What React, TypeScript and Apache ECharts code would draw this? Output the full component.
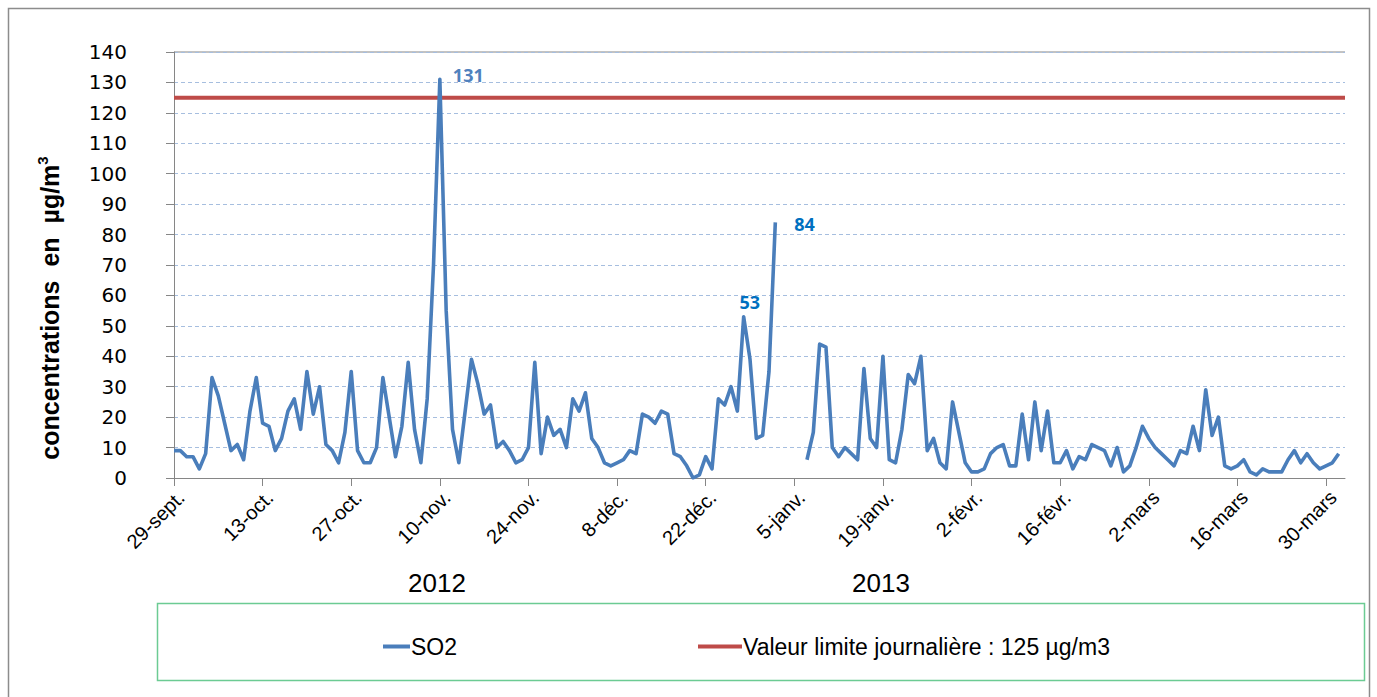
import React, { useEffect, useRef } from "react";
import * as echarts from "echarts";

// ---- data ----
const START = { year: 2012, month: 8, day: 29 }; // 29 sept. 2012
const DAY_COUNT = 186;
const MONTHS_FR = ["janv.", "févr.", "mars", "avr.", "mai", "juin", "juil.", "août", "sept.", "oct.", "nov.", "déc."];
const YEAR_LABELS = ["2012", "2013"];
const SO2_NAME = "SO2";
const LIMIT_NAME = "Valeur limite journalière : 125 µg/m3";
const LIMIT = 125;
const Y_TITLE = "concentrations  en  µg/m";

// daily SO2 values (µg/m3), null = no measurement
const so2Values: (number | null)[] = [
  9, 9, 7, 7, 3, 8, 33, 27, 18, 9,
  11, 6, 22, 33, 18, 17, 9, 13, 22, 26,
  16, 35, 21, 30, 11, 9, 5, 15, 35, 9,
  5, 5, 10, 33, 20, 7, 17, 38, 16, 5,
  26, 70, 131, 55, 16, 5, 22, 39, 31, 21,
  24, 10, 12, 9, 5, 6, 10, 38, 8, 20,
  14, 16, 10, 26, 22, 28, 13, 10, 5, 4,
  5, 6, 9, 8, 21, 20, 18, 22, 21, 8,
  7, 4, 0, 1, 7, 3, 26, 24, 30, 22,
  53, 39, 13, 14, 35, 84, null, null, null, null,
  6, 15, 44, 43, 10, 7, 10, 8, 6, 36,
  13, 10, 40, 6, 5, 16, 34, 31, 40, 9,
  13, 5, 3, 25, 15, 5, 2, 2, 3, 8,
  10, 11, 4, 4, 21, 6, 25, 9, 22, 5,
  5, 9, 3, 7, 6, 11, 10, 9, 4, 10,
  2, 4, 10, 17, 13, 10, 8, 6, 4, 9,
  8, 17, 9, 29, 14, 20, 4, 3, 4, 6,
  2, 1, 3, 2, 2, 2, 6, 9, 5, 8,
  5, 3, 4, 5, 8,
];
const LABELLED_INDICES = [42, 90, 95];

function buildCategories(): string[] {
  const out: string[] = [];
  for (let i = 0; i < DAY_COUNT; i++) {
    const d = new Date(Date.UTC(START.year, START.month, START.day + i));
    out.push(d.getUTCDate() + "-" + MONTHS_FR[d.getUTCMonth()]);
  }
  return out;
}

const FONT = "'Liberation Sans', Arial, sans-serif";
const NUM_FONT = "'DejaVu Sans', Verdana, sans-serif";

export default function App() {
  const ref = useRef<HTMLDivElement>(null);
  useEffect(() => {
    if (!ref.current) return;
    const chart = echarts.init(ref.current, undefined, { renderer: "svg" });
    const categories = buildCategories();
    const labelStyles: Record<number, any> = {
      42: { position: "right", distance: 13, offset: [0, -4], color: "#4F81BD" },
      90: { position: "top", distance: 6, offset: [6, 0], color: "#0070C0" },
      95: { position: "right", distance: 19, offset: [0, 2], color: "#0070C0" },
    };
    const so2Data = so2Values.map((v, i) => {
      if (LABELLED_INDICES.indexOf(i) >= 0) {
        return {
          value: v,
          label: {
            show: true,
            formatter: String(v),
            fontWeight: "bold",
            fontSize: 18,
            fontFamily: "'Open Sans', sans-serif",
            ...labelStyles[i],
          },
        };
      }
      return v;
    });
    const limitData = categories.map(() => LIMIT);

    const axisGrey = "#868686";
    chart.setOption({
      animation: false,
      backgroundColor: "#fff",
      grid: { left: 174, right: 32, top: 52, bottom: 219 },
      legend: [
        {
          data: [SO2_NAME],
          left: 378,
          top: 630,
          icon: "rect",
          itemWidth: 27,
          itemHeight: 4,
          itemGap: 0,
          textStyle: { fontSize: 23, fontFamily: FONT, color: "#000", padding: [0, 0, 0, -4] },
        },
        {
          data: [LIMIT_NAME],
          left: 693,
          top: 630,
          icon: "rect",
          itemWidth: 44,
          itemHeight: 4,
          textStyle: { fontSize: 23, fontFamily: FONT, color: "#000", padding: [0, 0, 0, -4] },
        },
      ],
      xAxis: {
        type: "category",
        data: categories,
        boundaryGap: false,
        axisLine: { lineStyle: { color: axisGrey, width: 1 } },
        axisTick: { show: true, interval: 13, length: 8, lineStyle: { color: axisGrey } },
        axisLabel: {
          interval: 13,
          rotate: 45,
          fontSize: 20,
          fontFamily: FONT,
          color: "#000",
          margin: 9,
          verticalAlign: "top",
        },
        splitLine: { show: false },
      },
      yAxis: {
        type: "value",
        min: 0,
        max: 140,
        interval: 10,
        axisLine: { show: true, lineStyle: { color: axisGrey, width: 1 } },
        axisTick: { show: true, length: 8, lineStyle: { color: axisGrey } },
        axisLabel: { fontSize: 20, fontFamily: NUM_FONT, color: "#000", margin: 47 },
        splitLine: { show: true, lineStyle: { color: "#A6BEDF", type: [4, 3], width: 1 } },
      },
      series: [
        {
          name: SO2_NAME,
          type: "line",
          data: so2Data,
          connectNulls: false,
          showSymbol: true,
          symbol: "circle",
          symbolSize: 0,
          lineStyle: { color: "#4A7EBB", width: 3.6, join: "round" },
          itemStyle: { color: "#4A7EBB" },
          z: 3,
        },
        {
          name: LIMIT_NAME,
          type: "line",
          data: limitData,
          showSymbol: false,
          symbol: "none",
          lineStyle: { color: "#BE4B48", width: 4 },
          itemStyle: { color: "#BE4B48" },
          z: 2,
        },
      ],
      graphic: [
        {
          type: "rect",
          shape: { x: 8.5, y: 8.5, width: 1361, height: 700 },
          style: { fill: "none", stroke: "#8C8C8C", lineWidth: 1.5 },
          silent: true,
        },
        {
          type: "rect",
          shape: { x: 157.5, y: 603.5, width: 1207, height: 77 },
          style: { fill: "none", stroke: "#6CCB93", lineWidth: 1.5 },
          silent: true,
          z: -1,
        },
        {
          type: "line",
          shape: { x1: 174, y1: 52, x2: 1345, y2: 52 },
          style: { stroke: axisGrey, lineWidth: 1 },
          silent: true,
        },
        {
          type: "text",
          x: 437,
          y: 583,
          style: { text: YEAR_LABELS[0], fontSize: 26, fontFamily: FONT, fill: "#000", align: "center", verticalAlign: "middle" },
        },
        {
          type: "text",
          x: 881,
          y: 583,
          style: { text: YEAR_LABELS[1], fontSize: 26, fontFamily: FONT, fill: "#000", align: "center", verticalAlign: "middle" },
        },
        {
          type: "text",
          x: 50,
          y: 308,
          rotation: Math.PI / 2,
          style: {
            text: "{a|" + Y_TITLE + "}{s|3}",
            align: "center",
            verticalAlign: "middle",
            rich: {
              a: { fontSize: 25, fontWeight: "bold", fontFamily: FONT, fill: "#000", lineHeight: 30 },
              s: { fontSize: 15, fontWeight: "bold", fontFamily: FONT, fill: "#000", verticalAlign: "top", lineHeight: 30, padding: [0, 0, 12, 0] },
            },
          },
        },
      ],
    });
    return () => chart.dispose();
  }, []);
  return (
    <div
      ref={ref}
      style={{ position: "fixed", left: 0, top: 0, width: 1377, height: 697 }}
    />
  );
}
